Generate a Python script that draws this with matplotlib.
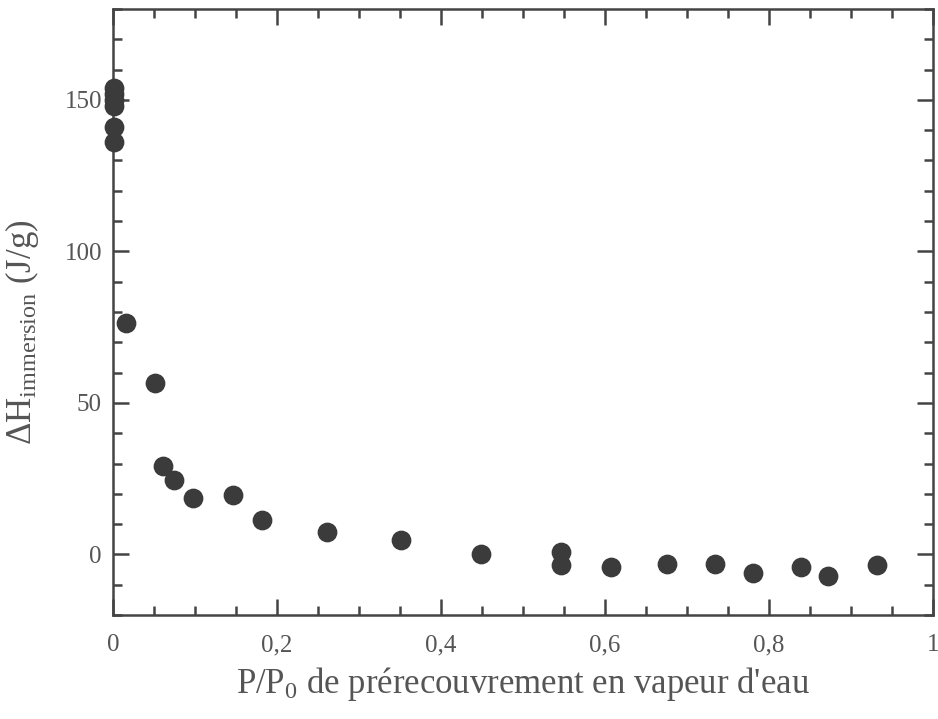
import matplotlib.pyplot as plt
from matplotlib.ticker import MultipleLocator, FuncFormatter

# donnees
pp0 = [0.001, 0.001, 0.001, 0.001, 0.001, 0.001,
       0.016, 0.051, 0.061, 0.074, 0.098, 0.146, 0.182,
       0.261, 0.351, 0.449, 0.546, 0.546, 0.607, 0.676,
       0.734, 0.780, 0.839, 0.872, 0.932]
dH = [154, 152, 150, 148, 141, 136,
      76.2, 56.7, 29.3, 24.5, 18.5, 19.5, 11.3,
      7.3, 4.6, 0.3, 0.7, -3.6, -4.3, -3.3,
      -3.3, -6.0, -4.3, -7.2, -3.6]

plt.rcParams['font.family'] = ['Liberation Serif', 'DejaVu Serif']
plt.rcParams['mathtext.fontset'] = 'custom'
plt.rcParams['mathtext.rm'] = 'Liberation Serif'
plt.rcParams['mathtext.it'] = 'Liberation Serif:italic'

txt = '#555555'
ax_col = '#444444'

fig = plt.figure(figsize=(9.38, 7.19), dpi=100)
ax = fig.add_axes([0.1205, 0.1446, 0.8742, 0.843])

ax.scatter(pp0, dH, s=175, color='#3b3b3b', zorder=3, clip_on=False)

ax.set_xlim(0, 1)
ax.set_ylim(-20, 180)
ax.xaxis.set_major_locator(MultipleLocator(0.2))
ax.xaxis.set_minor_locator(MultipleLocator(0.05))
ax.yaxis.set_major_locator(MultipleLocator(50))
ax.yaxis.set_minor_locator(MultipleLocator(10))

def virgule(v, pos):
    s = '%g' % round(v, 2)
    return s.replace('.', ',')

ax.xaxis.set_major_formatter(FuncFormatter(virgule))
ax.set_yticks([0, 50, 100, 150])

for sp in ax.spines.values():
    sp.set_color(ax_col)
    sp.set_linewidth(1.8)

ax.tick_params(which='both', direction='in', top=True, right=True,
               color=ax_col, width=1.8, labelcolor=txt, labelsize=18)
ax.tick_params(which='major', length=11.5)
ax.tick_params(which='minor', length=6.5)
ax.tick_params(axis='x', which='major', pad=14)
ax.tick_params(axis='y', which='major', pad=8)

ax.set_xlabel("P/P$_{\\mathrm{0}}$ de prérecouvrement en vapeur d'eau",
              fontsize=25, color=txt, labelpad=6)
ax.set_ylabel(r'$\Delta$H$_{\mathrm{immersion}}$ (J/g)', fontsize=25, color=txt)
ax.yaxis.set_label_coords(-0.088, 0.467)

fig.savefig('out.png', dpi=100)
